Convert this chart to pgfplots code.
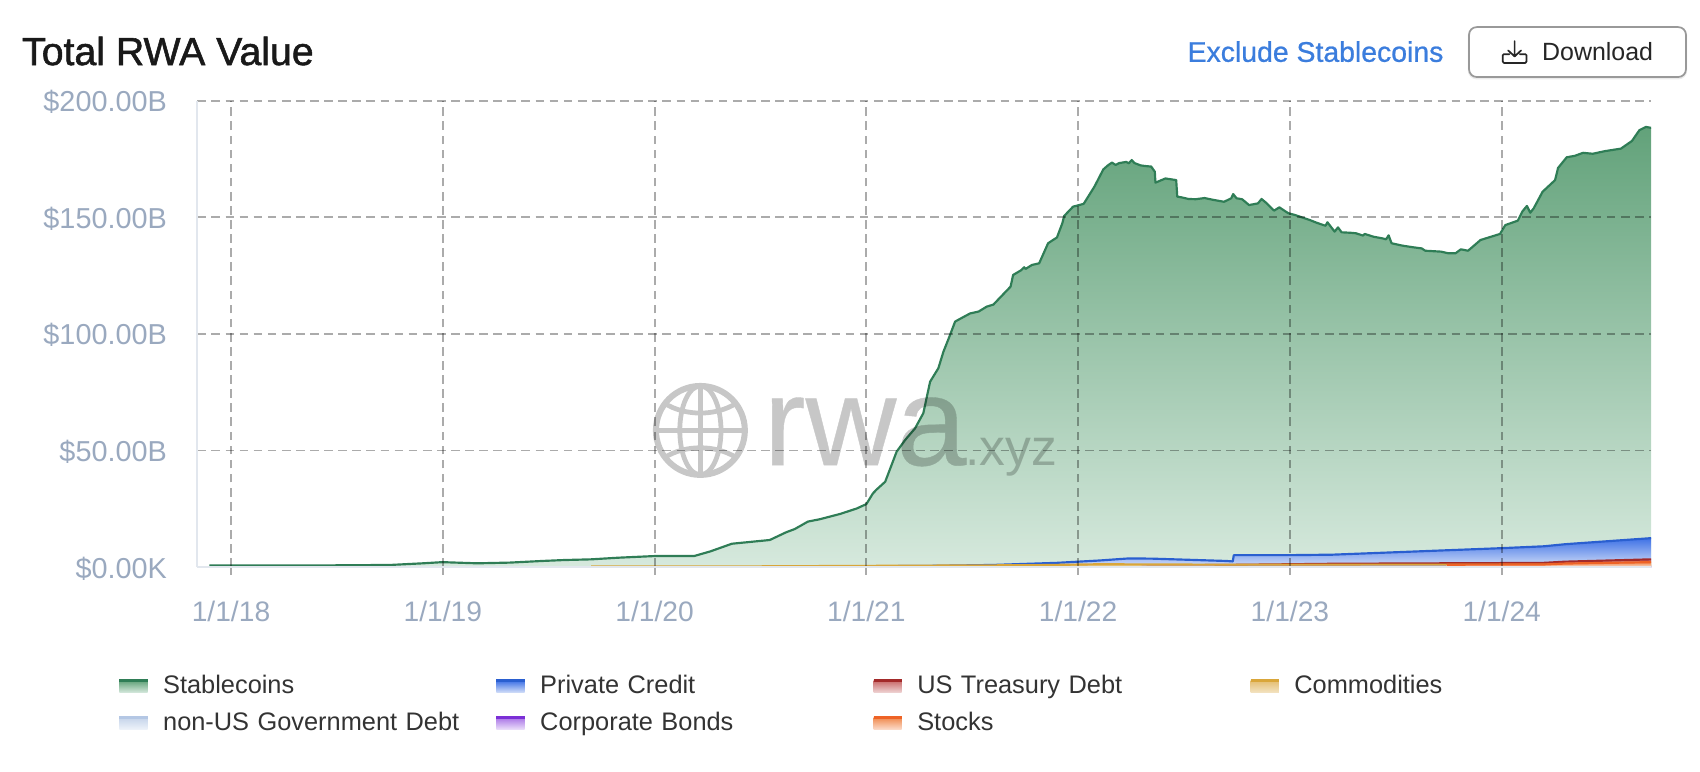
\documentclass[border=0pt]{standalone}
\usepackage{fontspec}
\setmainfont{Liberation Sans}
\newfontfamily\titlefont[FakeBold=1.4]{Liberation Sans}
\newfontfamily\linkfont[FakeBold=0.8]{Liberation Sans}
\newfontfamily\markfont[FakeBold=0.3]{Liberation Sans}
\usepackage{pgfplots}
\usepackage{pgfplotstable}
\pgfplotsset{compat=1.18}

\definecolor{tickgray}{HTML}{9AA9BF}
\definecolor{axisline}{HTML}{E2E7EE}
\definecolor{legendtext}{HTML}{333333}
\definecolor{linkblue}{HTML}{3B7DDD}
\definecolor{stableline}{HTML}{2F7D56}
\definecolor{stabletop}{HTML}{62A27A}
\definecolor{stablebot}{HTML}{D6E9DD}
\definecolor{creditline}{HTML}{2A5FD0}
\definecolor{credittop}{HTML}{3F72E6}
\definecolor{creditbot}{HTML}{D3DFF8}
\definecolor{tsyline}{HTML}{A32A2A}
\definecolor{tsytop}{HTML}{C96A6A}
\definecolor{tsybot}{HTML}{EFD5D5}
\definecolor{cmdline}{HTML}{D9A63A}
\definecolor{cmdtop}{HTML}{E4BE72}
\definecolor{cmdbot}{HTML}{F3E3C2}
\definecolor{govline}{HTML}{B4C7E4}
\definecolor{govtop}{HTML}{C5D4EA}
\definecolor{govbot}{HTML}{EEF3FA}
\definecolor{bondline}{HTML}{7B2FD6}
\definecolor{bondtop}{HTML}{A973E6}
\definecolor{bondbot}{HTML}{EBDFFA}
\definecolor{stockline}{HTML}{EE6326}
\definecolor{stocktop}{HTML}{F08A4E}
\definecolor{stockbot}{HTML}{FBDCCB}

\pgfplotstableread{
x y
2017.898 0.7
2018.445 0.7
2018.753 0.9
2018.906 1.6
2018.998 2.1
2019.162 1.6
2019.316 1.9
2019.469 2.6
2019.572 3.0
2019.700 3.3
2019.828 4.0
2019.997 4.7
2020.186 4.7
2020.263 6.7
2020.365 10.0
2020.544 11.6
2020.621 14.9
2020.662 16.3
2020.724 19.5
2020.780 20.5
2020.877 22.8
2020.954 25.1
2021.000 27.0
2021.031 31.6
2021.049 33.3
2021.089 36.6
2021.143 49.5
2021.183 54.5
2021.230 59.5
2021.269 66.0
2021.301 79.5
2021.340 85.3
2021.364 92.4
2021.395 99.5
2021.419 105.3
2021.445 106.6
2021.490 108.8
2021.530 109.6
2021.568 111.7
2021.600 112.6
2021.624 114.9
2021.681 120.3
2021.693 125.3
2021.732 127.4
2021.745 128.6
2021.752 127.9
2021.782 129.6
2021.816 130.3
2021.858 138.9
2021.900 141.4
2021.925 147.4
2021.934 150.6
2021.976 154.6
2022.026 155.8
2022.077 163.2
2022.119 170.6
2022.143 172.5
2022.160 173.5
2022.177 172.5
2022.194 173.3
2022.227 173.8
2022.239 173.2
2022.253 174.6
2022.266 173.3
2022.295 172.3
2022.320 172.0
2022.345 171.8
2022.362 169.6
2022.365 164.9
2022.412 166.7
2022.463 166.0
2022.468 158.9
2022.488 158.6
2022.521 157.9
2022.555 157.8
2022.597 158.3
2022.639 157.5
2022.689 156.7
2022.723 158.2
2022.732 160.0
2022.748 158.2
2022.774 157.8
2022.807 155.3
2022.849 156.0
2022.866 157.9
2022.891 156.0
2022.925 152.9
2022.950 154.3
2022.992 151.8
2023.025 151.0
2023.060 149.9
2023.093 148.9
2023.126 147.7
2023.168 146.4
2023.177 147.9
2023.211 143.9
2023.227 145.7
2023.244 143.6
2023.286 143.4
2023.311 143.2
2023.345 142.2
2023.353 142.9
2023.395 141.7
2023.437 141.0
2023.454 140.6
2023.466 142.3
2023.480 138.9
2023.530 137.9
2023.580 137.2
2023.622 136.7
2023.639 135.7
2023.714 135.3
2023.748 134.6
2023.782 134.6
2023.807 136.3
2023.841 135.7
2023.900 140.3
2023.992 142.9
2024.017 146.7
2024.076 148.6
2024.098 152.6
2024.119 154.9
2024.135 152.0
2024.151 153.9
2024.193 161.0
2024.252 166.0
2024.266 171.2
2024.307 175.8
2024.345 176.4
2024.384 177.7
2024.430 177.3
2024.486 178.4
2024.563 179.5
2024.615 182.8
2024.650 187.4
2024.681 188.8
2024.706 188.4
}\stablecoins

\pgfplotstableread{
x y
2020.800 0.2
2021.300 0.5
2021.600 0.9
2021.900 1.8
2022.100 2.8
2022.240 3.7
2022.350 3.6
2022.700 2.6
2022.730 2.4
2022.735 5.1
2023.000 5.1
2023.200 5.3
2023.600 6.7
2024.000 8.1
2024.200 8.9
2024.300 9.8
2024.706 12.4
}\privatecredit

\pgfplotstableread{
x y
2021.600 0.1
2022.200 0.6
2022.700 0.9
2023.000 1.2
2023.200 1.4
2024.000 1.7
2024.200 1.8
2024.300 2.3
2024.706 3.3
}\treasury

\pgfplotstableread{
x y
2019.700 0.2
2020.500 0.3
2021.000 0.5
2021.800 0.8
2022.100 1.2
2022.700 1.0
2023.000 1.0
2024.706 1.0
}\commodities

\pgfplotstableread{
x y
2022.800 0.05
2023.500 0.1
2024.706 0.2
}\nonusgov

\pgfplotstableread{
x y
2022.300 0.02
2023.500 0.05
2024.706 0.1
}\corpbonds

\pgfplotstableread{
x y
2023.740 0.9
2023.745 1.0
2024.200 1.1
2024.300 1.5
2024.706 2.1
}\stocks

\pgfplotsset{
  areafill/.style 2 args={forget plot, draw=none, top color=#1, bottom color=#2},
  arealine/.style n args={3}{draw=#1, line width=1pt, line join=round, no markers,
    legend image code/.code={
      \shade[draw=none, top color=#2, bottom color=#3] (0pt,-3pt) rectangle (13pt,2.5pt);
      \draw[#1, line width=1.2pt] (0pt,2.5pt) -- (13pt,2.5pt);
    }},
}

\begin{document}
\begin{tikzpicture}
% page frame, 0.5pt per reference unit
\path[use as bounding box] (0pt,0pt) rectangle (784pt,-356pt);

\begin{axis}[
  at={(91pt,-261.5pt)}, anchor=south west,
  scale only axis, width=670.5pt, height=215pt,
  xmin=2017.841, xmax=2024.706, ymin=0, ymax=200,
  axis on top,
  axis x line*=bottom, axis y line*=left,
  axis line style={axisline, line width=0.8pt},
  xtick={2018,2019,2020,2021,2022,2023,2024},
  xticklabels={1/1/18,1/1/19,1/1/20,1/1/21,1/1/22,1/1/23,1/1/24},
  ytick={0,50,100,150,200},
  yticklabels={\$0.00K,\$50.00B,\$100.00B,\$150.00B,\$200.00B},
  xmajorgrids, ymajorgrids,
  grid style={black, opacity=0.33, line width=0.9pt, dash pattern=on 4pt off 2.5pt},
  tick align=outside,
  x tick style={black, opacity=0.33, line width=0.9pt},
  y tick style={draw=none},
  major tick length=3.5pt,
  xticklabel style={font=\fontsize{13}{15}\selectfont, text=tickgray, yshift=-8.5pt},
  yticklabel style={font=\fontsize{13.3}{15}\selectfont, text=tickgray, xshift=-7pt, yshift=-0.6pt},
  legend columns=4,
  legend cell align=left,
  legend style={
    at={(-0.0593,-0.215)}, anchor=north west,
    draw=none, fill=none,
    font=\fontsize{11.7}{14}\selectfont\color{legendtext},
    row sep=4pt,
    nodes={text width=146.5pt, align=left, inner xsep=6.6pt, inner ysep=1.5pt},
  },
]
\addplot[areafill={stabletop}{stablebot}] table {\stablecoins} \closedcycle;
\addplot[arealine={stableline}{stabletop}{stablebot}] table {\stablecoins};
\addlegendentry{Stablecoins}
\addplot[areafill={credittop}{creditbot}] table {\privatecredit} \closedcycle;
\addplot[arealine={creditline}{credittop}{creditbot}] table {\privatecredit};
\addlegendentry{Private Credit}
\addplot[areafill={tsytop}{tsybot}] table {\treasury} \closedcycle;
\addplot[arealine={tsyline}{tsytop}{tsybot}] table {\treasury};
\addlegendentry{US Treasury Debt}
\addplot[areafill={cmdtop}{cmdbot}] table {\commodities} \closedcycle;
\addplot[arealine={cmdline}{cmdtop}{cmdbot}] table {\commodities};
\addlegendentry{Commodities}
\addplot[areafill={govtop}{govbot}] table {\nonusgov} \closedcycle;
\addplot[arealine={govline}{govtop}{govbot}] table {\nonusgov};
\addlegendentry{non-US Government Debt}
\addplot[areafill={bondtop}{bondbot}] table {\corpbonds} \closedcycle;
\addplot[arealine={bondline}{bondtop}{bondbot}] table {\corpbonds};
\addlegendentry{Corporate Bonds}
\addplot[areafill={stocktop}{stockbot}] table {\stocks} \closedcycle;
\addplot[arealine={stockline}{stocktop}{stockbot}] table {\stocks};
\addlegendentry{Stocks}
\end{axis}

\begin{scope}[x=0.5pt, y=-0.5pt]
% header
\node[anchor=base west, inner sep=0pt, text=black!90] at (20,60)
  {\fontsize{18.1}{20}\titlefont Total RWA Value};
\node[anchor=base west, inner sep=0pt, text=linkblue] at (1095,57)
  {\fontsize{13.1}{16}\linkfont Exclude Stablecoins};
\draw[black!8, line width=1.2pt, rounded corners=3.5pt] (1355,26) rectangle (1555,72);
\draw[black!40, line width=0.8pt, rounded corners=3.5pt, fill=white] (1355,25) rectangle (1555,71);
\node[anchor=base west, inner sep=0pt, text=black!85] at (1422,56)
  {\fontsize{11.5}{14}\selectfont Download};
% download icon
\draw[black!85, line width=0.8pt, line cap=round, line join=round]
  (1392,50) -- (1387,50) -- (1386,51) -- (1386,56.5) -- (1387,58) -- (1407,58) -- (1408,56.5) -- (1408,51) -- (1407,50) -- (1402,50)
  (1397,38) -- (1397,52) (1391,46.5) -- (1397,52) -- (1403,46.5);
% watermark
\begin{scope}[transparency group, opacity=0.22]
  \draw[black, line width=2.8pt] (646,397) circle (41);
  \draw[black, line width=2.2pt] (646,397) ellipse (19 and 41);
  \draw[black, line width=2.2pt] (646,356) -- (646,438) (605,397) -- (687,397);
  \draw[black, line width=2.2pt] (613,372) .. controls (632,384) and (660,384) .. (679,372);
  \draw[black, line width=2.2pt] (613,422) .. controls (632,410) and (660,410) .. (679,422);
  \node[anchor=base west, inner sep=0pt, black] at (704,429)
    {\fontsize{58}{60}\markfont rwa};
  \node[anchor=base west, inner sep=0pt, black] at (890,429)
    {\fontsize{23.8}{26}\selectfont .xyz};
\end{scope}
\end{scope}
\end{tikzpicture}
\end{document}
